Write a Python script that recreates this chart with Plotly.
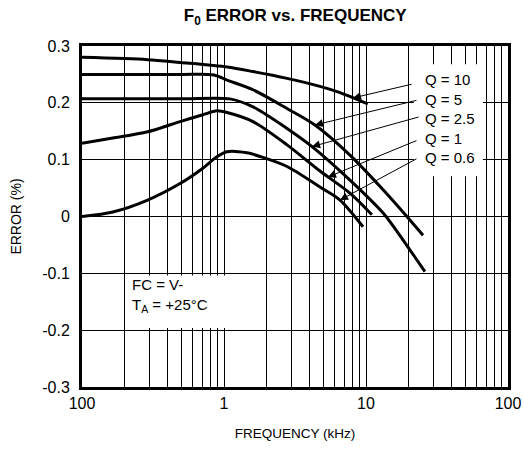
import numpy as np
import plotly.graph_objects as go

# ---- data (frequency in kHz, error in %) ----
f_q10 = [0.1, 0.29, 0.49, 1.05, 1.6, 2.78, 4.74, 6.56, 10.3]
e_q10 = [0.280, 0.276, 0.271, 0.263, 0.255, 0.243, 0.229, 0.218, 0.198]

f_q5 = [0.1, 0.5, 0.85, 1.05, 1.6, 2.78, 4.37, 7.71, 13.2, 19.4, 25.2]
e_q5 = [0.250, 0.250, 0.249, 0.240, 0.223, 0.190, 0.161, 0.108, 0.047, 0.0, -0.033]

f_q25 = [0.1, 0.5, 1.1, 1.6, 2.78, 4.17, 7.71, 13.2, 18.2, 22.9, 26.0]
e_q25 = [0.207, 0.207, 0.207, 0.193, 0.155, 0.123, 0.064, 0.006, -0.041, -0.077, -0.097]

f_q1 = [0.1, 0.165, 0.29, 0.49, 0.71, 0.89, 1.05, 1.6, 2.78, 4.74, 7.71, 11.0]
e_q1 = [0.129, 0.138, 0.149, 0.167, 0.179, 0.186, 0.183, 0.167, 0.126, 0.080, 0.041, 0.003]

f_q06 = [0.1, 0.165, 0.29, 0.49, 0.71, 0.89, 1.05, 1.45, 1.88, 2.78, 4.74, 6.56, 9.53]
e_q06 = [0.0, 0.008, 0.029, 0.058, 0.085, 0.105, 0.114, 0.112, 0.104, 0.088, 0.052, 0.029, -0.018]

series_names = ["Q = 10", "Q = 5", "Q = 2.5", "Q = 1", "Q = 0.6"]
series_f = [f_q10, f_q5, f_q25, f_q1, f_q06]
series_e = [e_q10, e_q5, e_q25, e_q1, e_q06]
arrow_f = [8.1, 4.37, 4.17, 5.4, 6.56]          # where each label arrow touches its curve
arrow_tail = [(60, -14), (103, -25), (108, -30), (90, -37), (78, -42)]  # pixel offsets

x_tickvals = [0.1, 1, 10, 100]
x_ticktext = ["100", "1", "10", "100"]
x_minor = [m * d for d in (0.1, 1, 10) for m in range(2, 10)]
y_tickvals = [-0.3, -0.2, -0.1, 0, 0.1, 0.2, 0.3]
y_ticktext = ["-0.3", "-0.2", "-0.1", "0", "0.1", "0.2", "0.3"]

FONT = "Liberation Sans, Arial, sans-serif"

fig = go.Figure()
for name, fs, es in zip(series_names, series_f, series_e):
    fig.add_trace(go.Scatter(x=fs, y=es, mode="lines", name=name,
                             line=dict(color="black", width=3, shape="spline", smoothing=0.8),
                             showlegend=False))

# white boxes hiding the grid behind the labels (they do not overlap any curve)
fig.add_shape(type="rect", xref="paper", yref="y", x0=0.779, x1=0.941, y0=0.071, y1=0.268,
              fillcolor="white", line=dict(width=0), layer="above")
fig.add_shape(type="rect", xref="paper", yref="y", x0=0.106, x1=0.43, y0=-0.196, y1=-0.104,
              fillcolor="white", line=dict(width=0), layer="above")

for name, fs, es, af, (ax, ay) in zip(series_names, series_f, series_e, arrow_f, arrow_tail):
    ey = float(np.interp(np.log10(af), np.log10(fs), es))
    fig.add_annotation(x=np.log10(af), y=ey, xref="x", yref="y", text="",
                       showarrow=True, arrowhead=2, arrowsize=1.6, arrowwidth=1,
                       arrowcolor="black", ax=ax, ay=ay, standoff=0)

fig.add_annotation(xref="paper", yref="y", x=0.801, y=0.1725, text="<br>".join(series_names),
                   showarrow=False, xanchor="left", yanchor="middle", align="left",
                   font=dict(family=FONT, size=15, color="black"))

fig.add_annotation(xref="paper", yref="y", x=0.113, y=-0.139,
                   text="FC = V-<br>T<sub>A</sub> = +25°C", showarrow=False,
                   xanchor="left", yanchor="middle", align="left",
                   font=dict(family=FONT, size=15, color="black"))

fig.update_layout(
    width=524, height=451,
    margin=dict(l=82, r=16, t=46, b=64),
    paper_bgcolor="white", plot_bgcolor="white",
    title=dict(text="<b>F<sub>0</sub> ERROR vs. FREQUENCY</b>", x=0.5634, xanchor="center",
               y=1 - 15.5 / 451, yanchor="middle", yref="container",
               font=dict(family=FONT, size=17, color="black")),
    font=dict(family=FONT, size=16, color="black"),
)
fig.update_xaxes(type="log", range=[-1, 2], tickvals=x_tickvals, ticktext=x_ticktext,
                 showgrid=True, gridcolor="black", gridwidth=1, automargin=False,
                 minor=dict(tickvals=x_minor, showgrid=True, gridcolor="black", gridwidth=1, ticks=""),
                 showline=True, linecolor="black", linewidth=3, mirror=True, ticks="",
                 tickfont=dict(family=FONT, size=16),
                 title=dict(text="FREQUENCY (kHz)", font=dict(family=FONT, size=13.5), standoff=18))
fig.update_yaxes(range=[-0.3, 0.3], tickvals=y_tickvals, ticktext=y_ticktext,
                 showgrid=True, gridcolor="black", gridwidth=1, zeroline=False, automargin=False,
                 showline=True, linecolor="black", linewidth=3, mirror=True, ticks="",
                 ticklabelstandoff=6,
                 tickfont=dict(family=FONT, size=16),
                 title=dict(text="ERROR (%)", font=dict(family=FONT, size=14), standoff=18))

fig.write_html("out.html")
